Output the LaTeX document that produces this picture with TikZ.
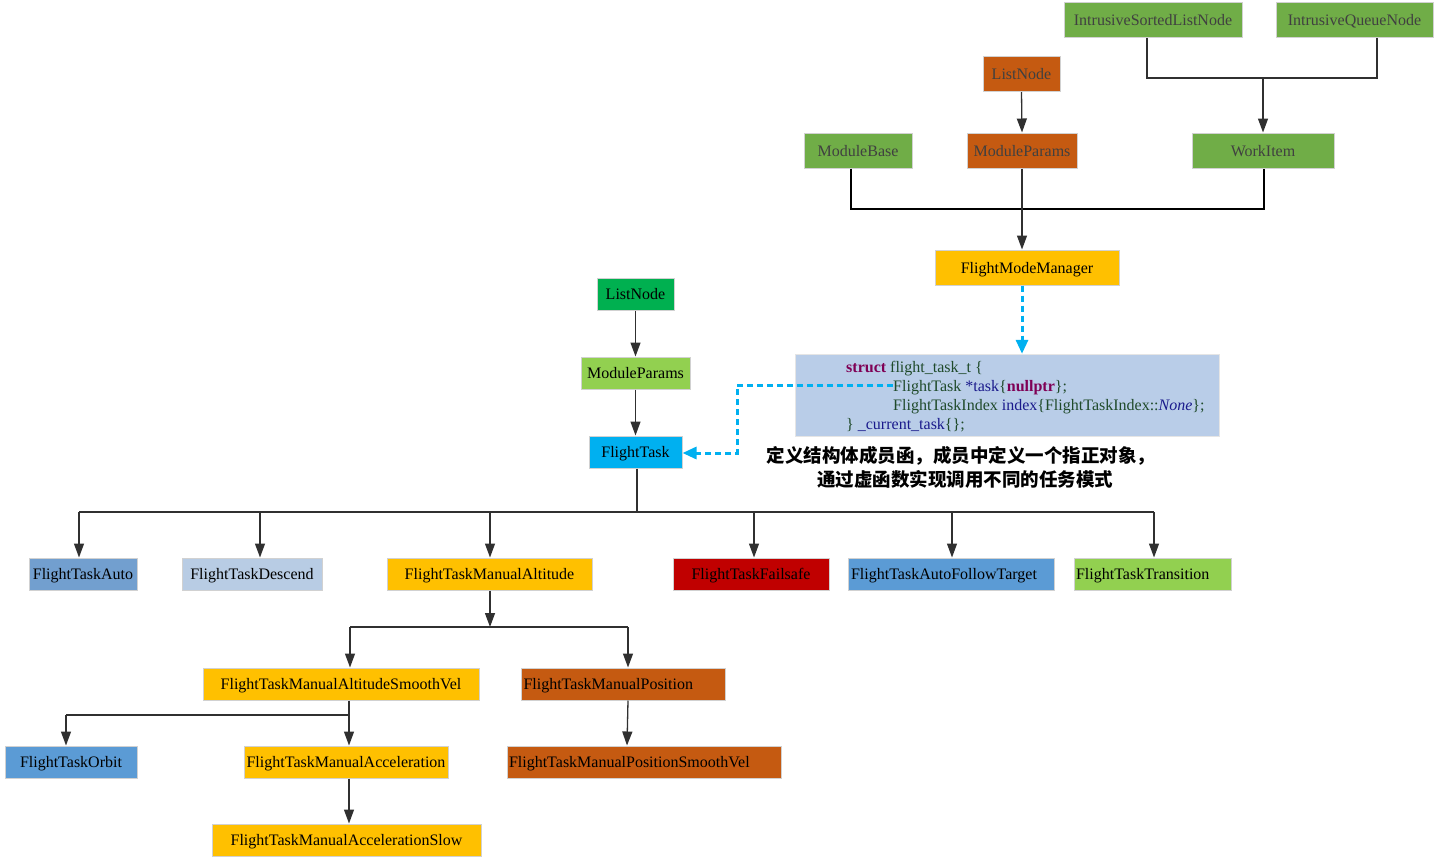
\documentclass[tikz,border=0pt]{standalone}
\usepackage{fontspec}
\setmainfont{Liberation Serif}
\newfontfamily\cjk{Noto Sans CJK SC}
\usetikzlibrary{arrows.meta}
\definecolor{gA}{HTML}{70AD47}
\definecolor{orA}{HTML}{C55A11}
\definecolor{yel}{HTML}{FFC000}
\definecolor{cyanC}{HTML}{00B0F0}
\definecolor{grn}{HTML}{00B050}
\definecolor{lgrn}{HTML}{92D050}
\definecolor{blu}{HTML}{5B9BD5}
\definecolor{stl}{HTML}{729FCF}
\definecolor{lblu}{HTML}{B8CCE4}
\definecolor{redC}{HTML}{C00000}
\definecolor{codebg}{HTML}{B9CDE8}
\definecolor{kw}{HTML}{7F0055}
\definecolor{tg}{HTML}{1F4A2A}
\definecolor{nv}{HTML}{1A1A8C}
\definecolor{ln}{HTML}{303030}
\tikzset{
  box/.style={draw=black!18, line width=1pt, inner sep=0pt, minimum height=32pt, text height=12pt, text depth=1pt, font=\fontsize{16}{18}\selectfont, text=black},
  dkbox/.style={box, text=black!75},
  conn/.style={draw=ln, line width=1.3pt},
  arr/.style={conn, -{Triangle[length=14pt,width=10pt]}},
  cdash/.style={draw=cyanC, line width=3pt, dash pattern=on 6pt off 4pt, -{Triangle[length=14pt,width=12pt]}},
}
\begin{document}
\begin{tikzpicture}[x=1pt,y=-1pt]
\useasboundingbox (0,0) rectangle (1439,865);
% top cluster
\node[dkbox, fill=gA, minimum width=178, minimum height=35] (isln) at (1153,20) {IntrusiveSortedListNode};
\node[dkbox, fill=gA, minimum width=157, minimum height=35] (iqn) at (1354.5,20) {IntrusiveQueueNode};
\node[dkbox, fill=orA, minimum width=77, minimum height=35] (ln1) at (1021.5,74) {ListNode};
\node[dkbox, fill=gA, minimum width=108, minimum height=35] (mb) at (858,150.5) {ModuleBase};
\node[dkbox, fill=orA, minimum width=110, minimum height=35] (mp1) at (1022,150.5) {ModuleParams};
\node[dkbox, fill=gA, minimum width=142, minimum height=35] (wi) at (1263,150.5) {WorkItem};
\node[box, fill=yel, minimum width=184, minimum height=35] (fmm) at (1027,267.5) {FlightModeManager};
\coordinate (busA) at (1263,78);
\draw[conn] (isln.south -| 1147,0) |- (busA) -| (iqn.south -| 1377,0);
\draw[arr] (busA) -- (wi.north);
\draw[arr] (ln1.south) -- (mp1.north);
\draw[line width=2pt] (mb.south -| 851,0) |- (1264,209) -- (wi.south -| 1264,0);
\draw[arr] (mp1.south) -- (fmm.north -| mp1.south);
% code box
\node[fill=codebg, draw=black!10, minimum width=424, minimum height=82, inner sep=0pt] (code) at (1007,395) {};
\begin{scope}[font=\fontsize{16}{18}\selectfont, text=tg]
\node[anchor=base west, inner sep=0pt] (c1) at (846,372) {\textcolor{kw}{\textbf{struct}} flight\_task\_t \{};
\node[anchor=base west, inner sep=0pt] (c2) at (893,391) {FlightTask \textcolor{nv}{*task}\{\textcolor{kw}{\textbf{nullptr}}\};};
\node[anchor=base west, inner sep=0pt] (c3) at (893,410) {FlightTaskIndex \textcolor{nv}{index}\{FlightTaskIndex::\textcolor{nv}{\textit{None}}\};};
\node[anchor=base west, inner sep=0pt] (c4) at (846,429) {\} \textcolor{nv}{\_current\_task}\{\};};
\end{scope}
\draw[cdash] (fmm.south -| 1022,0) -- (code.north -| 1022,0);
% left column
\node[box, fill=grn, minimum width=77] (ln2) at (635.5,294) {ListNode};
\node[box, fill=lgrn, minimum width=109] (mp2) at (635.5,373) {ModuleParams};
\node[box, fill=cyanC, minimum width=93] (ft) at (635.5,452) {FlightTask};
\draw[arr] (ln2) -- (mp2);
\draw[arr] (mp2) -- (ft);
\coordinate (cstart) at (893,385);
\draw[cdash] (cstart) -| (737,453) -- (ft.east |- 0,453);
\node[font=\cjk\bfseries\fontsize{18.5}{24}\selectfont, align=center, inner sep=0pt] (note) at (961,467) {定义结构体成员函，成员中定义一个指正对象，\\\ \ 通过虚函数实现调用不同的任务模式};
% children of FlightTask
\node[box, fill=stl, minimum width=108] (fta) at (83,574) {FlightTaskAuto};
\node[box, fill=lblu, minimum width=140] (ftd) at (252,574) {FlightTaskDescend};
\node[box, fill=yel, minimum width=205] (ftma) at (489.5,574) {FlightTaskManualAltitude};
\node[box, fill=redC, minimum width=156] (ftf) at (751,574) {FlightTaskFailsafe};
\node[box, fill=blu, minimum width=206, text width=200, align=left] (ftaf) at (951,574) {FlightTaskAutoFollowTarget};
\node[box, fill=lgrn, minimum width=157, text width=153, align=left] (ftt) at (1152.5,574) {FlightTaskTransition};
\coordinate (bus1) at (637,512);
\draw[conn] (ft.south -| bus1) -- (bus1);
\draw[conn] (79,512) -- (1154,512);
\foreach \n/\x in {fta/79, ftd/260, ftma/490, ftf/754, ftaf/952, ftt/1154}
  \draw[arr] (\x,512) -- (\n.north -| \x,0);
% ManualAltitude subtree
\coordinate (bus2) at (490,627);
\draw[arr] (ftma.south -| bus2) -- (bus2);
\node[box, fill=yel, minimum width=276] (ftmasv) at (341,684) {FlightTaskManualAltitudeSmoothVel};
\node[box, fill=orA, minimum width=204, text width=199, align=left] (ftmp) at (623,684) {FlightTaskManualPosition};
\draw[conn] (350,627) -- (628,627);
\draw[arr] (350,627) -- (ftmasv.north -| 350,0);
\draw[arr] (628,627) -- (ftmp.north -| 628,0);
\node[box, fill=blu, minimum width=132] (fto) at (71,762) {FlightTaskOrbit};
\node[box, fill=yel, minimum width=204] (ftmacc) at (346,762) {FlightTaskManualAcceleration};
\node[box, fill=orA, minimum width=274, text width=270, align=left] (ftmpsv) at (644,762) {FlightTaskManualPositionSmoothVel};
\node[box, fill=yel, minimum width=269] (ftmas) at (346.5,840) {FlightTaskManualAccelerationSlow};
\coordinate (bus3) at (349,715);
\draw[conn] (ftmasv.south -| bus3) -- (bus3) -- (66,715);
\draw[arr] (66,715) -- (fto.north -| 66,0);
\draw[arr] (bus3) -- (ftmacc.north -| bus3);
\draw[arr] (ftmp.south -| 628,0) -- (ftmpsv.north -| 627,0);
\draw[arr] (ftmacc.south -| 349,0) -- (ftmas.north -| 349,0);
\end{tikzpicture}
\end{document}
